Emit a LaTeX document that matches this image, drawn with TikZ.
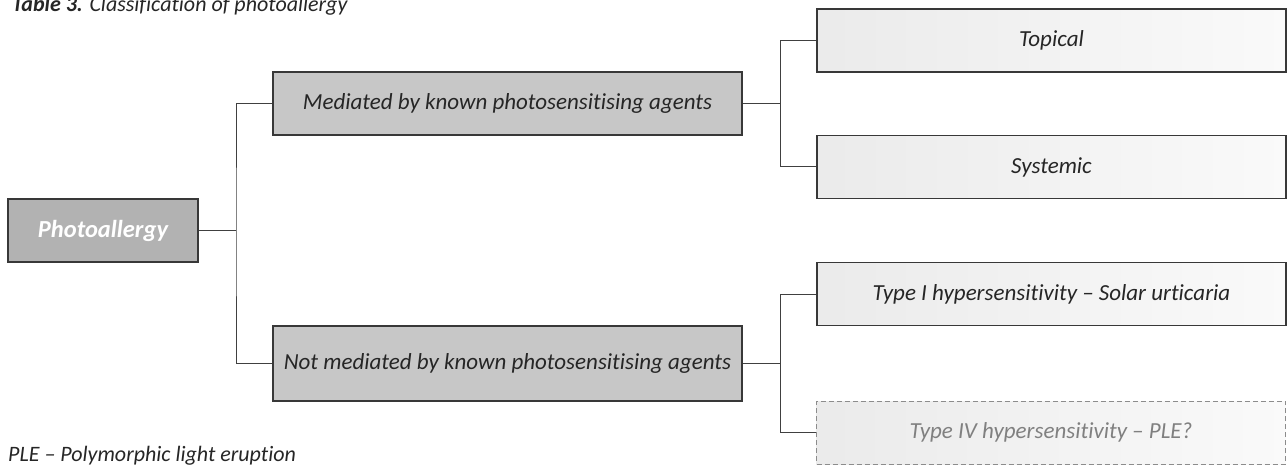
\documentclass[tikz,border=0pt]{standalone}
\usepackage{fontspec}
\setmainfont[Ligatures={NoCommon,NoContextual}]{Carlito}
\begin{document}
\begin{tikzpicture}[x=1pt,y=-1pt,
  base/.style={draw=black!78, line width=1.3pt, inner sep=0pt, align=center,
    font=\fontsize{23}{27}\selectfont\itshape, text=black!85},
  rootbox/.style={base, fill=black!30, text=white, font=\fontsize{24.5}{28}\selectfont\bfseries\itshape},
  midbox/.style={base, fill=black!22, minimum width=469pt},
  leafbox/.style={base, left color=black!8, right color=black!2, minimum width=469pt, minimum height=63pt},
  openbox/.style={leafbox, draw=black!45, line width=0.9pt, dash pattern=on 5pt off 3pt, text=black!50},
  link/.style={draw=black!75, line width=1pt}
]
\useasboundingbox (0,0) rectangle (1287,465);

% caption and footnote
\node[anchor=base west, inner sep=0pt, font=\fontsize{22}{26}\selectfont, text=black!85]
  (cap) at (12,12) {\textbf{\textit{Table 3.}} \textit{Classification of photoallergy}};
\node[anchor=base west, inner sep=0pt, font=\fontsize{22}{26}\selectfont\itshape, text=black!85]
  (note) at (8,461) {PLE – Polymorphic light eruption};

% boxes
\node[rootbox, minimum width=190pt, minimum height=63pt] (pa) at (103,230.5) {Photoallergy};
\node[midbox, minimum height=63pt] (med) at (507.5,103.5) {Mediated by known photosensitising agents};
\node[midbox, minimum height=75pt] (nmed) at (507.5,363.5) {Not mediated by known photosensitising agents};
\node[leafbox] (top) at (1051.5,40.5) {Topical};
\node[leafbox] (sys) at (1051.5,167) {Systemic};
\node[leafbox] (t1) at (1051.5,294) {Type I hypersensitivity – Solar urticaria};
\node[openbox] (t4) at (1051,432.5) {Type IV hypersensitivity – PLE?};

% junction points
\coordinate (j1) at (236,230.5);
\coordinate (j2) at (780,103.5);
\coordinate (j3) at (780,363.5);

% connectors
\draw[link] (pa.east) -- (j1);
\draw[link] (med.west) -| (j1) |- (nmed.west);
\draw[link] (med.east) -- (j2);
\draw[link] (top.west) -| (j2) |- (sys.west);
\draw[link] (nmed.east) -- (j3);
\draw[link] (t1.west) -| (j3) |- (t4.west);
\end{tikzpicture}
\end{document}
